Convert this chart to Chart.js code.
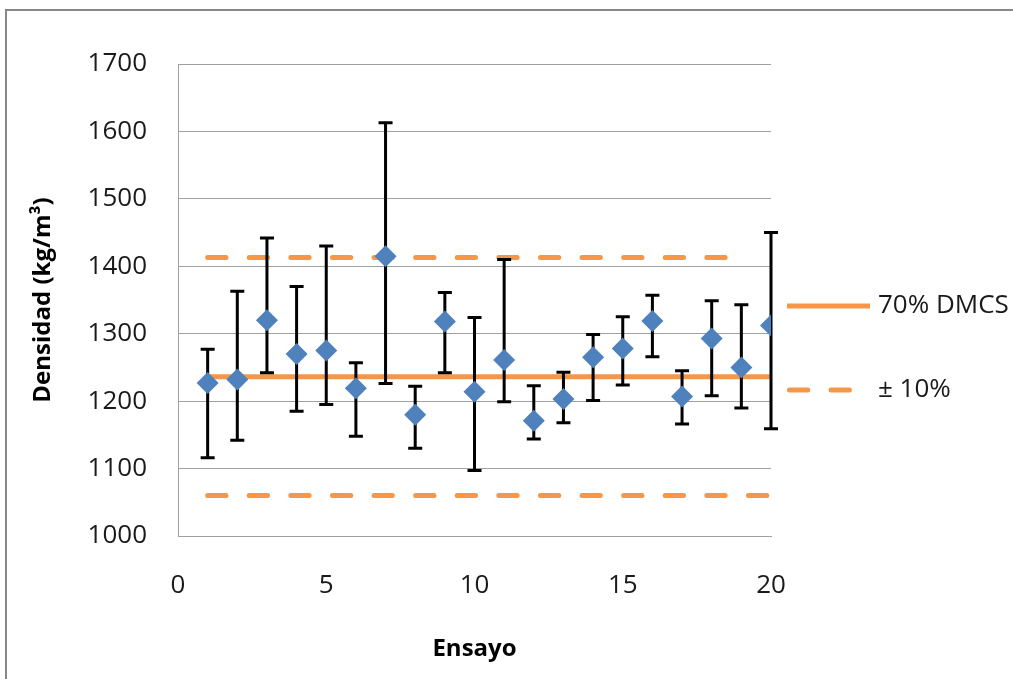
<!DOCTYPE html>
<html>
<head>
<meta charset="utf-8">
<title>Densidad por ensayo</title>
<script src="https://cdn.jsdelivr.net/npm/chart.js@4"></script>
<style>
  html, body { margin: 0; padding: 0; background: #fff; }
  #densityChart { display: block; }
</style>
</head>
<body>
<canvas id="densityChart" width="1013" height="679"></canvas>
<script>
// Densidad medida en cada ensayo, con sus limites de error
var ensayos = [1, 2, 3, 4, 5, 6, 7, 8, 9, 10, 11, 12, 13, 14, 15, 16, 17, 18, 19, 20];
var densidad = [1227, 1232, 1320, 1270, 1275, 1219, 1415, 1180, 1318, 1214,
                1261, 1171, 1203, 1265, 1278, 1319, 1207, 1293, 1250, 1312];
var errorSup = [1277, 1363, 1442, 1370, 1430, 1257, 1613, 1222, 1361, 1324,
                1410, 1223, 1243, 1299, 1325, 1357, 1245, 1349, 1343, 1450];
var errorInf = [1116, 1142, 1242, 1185, 1195, 1148, 1226, 1130, 1242, 1097,
                1199, 1144, 1168, 1201, 1224, 1266, 1166, 1208, 1190, 1159];

// Lineas de referencia: 70% DMCS y +/- 10%
var dmcs70 = 1236;
var limiteSup = 1413;
var limiteInf = 1060;
var rangoDmcs = [1, 20];
var rangoSup = [1, 19];
var rangoInf = [1, 20];

var yTicks = [1000, 1100, 1200, 1300, 1400, 1500, 1600, 1700];
var xTicks = [0, 5, 10, 15, 20];

var legendLabels = ['70% DMCS', '\u00b1 10%'];

var ORANGE = '#F79646';
var BLUE = '#4F81BD';
var GRID = '#A0A0A0';
var FONT = '"Open Sans", "Liberation Sans", sans-serif';
var DASH = [18.3, 23.3];

function horizontal(range, value) {
    return range.map(function (x) { return { x: x, y: value }; });
}

var points = ensayos.map(function (x, i) { return { x: x, y: densidad[i] }; });

// error bars go under the diamonds but over the orange lines
var errorBars = {
    id: 'errorBars',
    beforeDatasetDraw: function (chart, args) {
        if (args.index !== 0) return;
        var ctx = chart.ctx;
        var xs = chart.scales.x, ys = chart.scales.y;
        ctx.save();
        ctx.strokeStyle = '#000';
        ctx.lineWidth = 3;
        for (var i = 0; i < ensayos.length; i++) {
            var px = xs.getPixelForValue(ensayos[i]);
            var top = ys.getPixelForValue(errorSup[i]);
            var bot = ys.getPixelForValue(errorInf[i]);
            ctx.beginPath();
            ctx.moveTo(px, top);
            ctx.lineTo(px, bot);
            ctx.moveTo(px - 7, top);
            ctx.lineTo(px + 7, top);
            ctx.moveTo(px - 7, bot);
            ctx.lineTo(px + 7, bot);
            ctx.stroke();
        }
        ctx.restore();
    }
};

// outer frame and the legend on the right
var frameAndLegend = {
    id: 'frameAndLegend',
    afterDraw: function (chart) {
        var ctx = chart.ctx;
        var area = chart.chartArea;
        ctx.save();
        ctx.strokeStyle = '#878787';
        ctx.lineWidth = 2;
        ctx.strokeRect(6, 10, 1200, 900);

        var x0 = area.right + 16;
        var x1 = x0 + 83;
        var rows = [306, 390];
        ctx.strokeStyle = ORANGE;
        ctx.lineWidth = 5;
        ctx.beginPath();
        ctx.moveTo(x0, rows[0]);
        ctx.lineTo(x1, rows[0]);
        ctx.stroke();

        ctx.lineCap = 'round';
        ctx.setLineDash(DASH);
        ctx.beginPath();
        ctx.moveTo(x0 + 2.5, rows[1]);
        ctx.lineTo(x1, rows[1]);
        ctx.stroke();
        ctx.setLineDash([]);

        ctx.fillStyle = '#1a1a1a';
        ctx.font = '26px ' + FONT;
        ctx.textBaseline = 'middle';
        ctx.textAlign = 'left';
        ctx.fillText(legendLabels[0], x1 + 8, rows[0]);
        ctx.fillText(legendLabels[1], x1 + 8, rows[1]);
        ctx.restore();
    }
};

function plainLabel(value) {
    return String(value);
}

var ctx = document.getElementById('densityChart').getContext('2d');
var densityChart = new Chart(ctx, {
    type: 'scatter',
    data: {
        datasets: [{
            label: 'Densidad',
            data: points,
            pointStyle: 'rectRot',
            pointRadius: 11,
            pointBackgroundColor: BLUE,
            pointBorderColor: BLUE,
            pointBorderWidth: 0,
            showLine: false,
            order: 0
        }, {
            label: legendLabels[0],
            data: horizontal(rangoDmcs, dmcs70),
            showLine: true,
            borderColor: ORANGE,
            borderWidth: 5,
            pointRadius: 0,
            order: 1
        }, {
            label: legendLabels[1],
            data: horizontal(rangoSup, limiteSup),
            showLine: true,
            borderColor: ORANGE,
            borderWidth: 5,
            borderDash: DASH,
            borderCapStyle: 'round',
            pointRadius: 0,
            order: 2
        }, {
            label: legendLabels[1],
            data: horizontal(rangoInf, limiteInf),
            showLine: true,
            borderColor: ORANGE,
            borderWidth: 5,
            borderDash: DASH,
            borderCapStyle: 'round',
            pointRadius: 0,
            order: 3
        }]
    },
    options: {
        responsive: false,
        devicePixelRatio: 1,
        animation: false,
        layout: {
            padding: { left: 0, top: 64, right: 242, bottom: 0 }
        },
        plugins: {
            legend: { display: false },
            tooltip: { enabled: false }
        },
        scales: {
            x: {
                type: 'linear',
                min: 0,
                max: 20,
                afterFit: function (scale) { scale.height = 143; },
                afterBuildTicks: function (scale) {
                    scale.ticks = xTicks.map(function (v) { return { value: v }; });
                },
                grid: { display: false, drawTicks: false },
                border: { display: true, color: GRID, width: 1 },
                ticks: {
                    padding: 34,
                    color: '#1a1a1a',
                    callback: plainLabel,
                    font: { family: FONT, size: 26 }
                },
                title: {
                    display: true,
                    text: 'Ensayo',
                    color: '#000',
                    padding: { top: 0, bottom: 15 },
                    font: { family: FONT, size: 24, weight: 'bold' }
                }
            },
            y: {
                type: 'linear',
                min: 1000,
                max: 1700,
                afterFit: function (scale) { scale.width = 178; },
                afterBuildTicks: function (scale) {
                    scale.ticks = yTicks.map(function (v) { return { value: v }; });
                },
                grid: { color: GRID, lineWidth: 1, drawTicks: false },
                border: { display: true, color: GRID, width: 1 },
                ticks: {
                    padding: 31,
                    color: '#1a1a1a',
                    callback: plainLabel,
                    font: { family: FONT, size: 26 }
                },
                title: {
                    display: true,
                    text: 'Densidad (kg/m\u00b3)',
                    color: '#000',
                    padding: { top: 29, bottom: 0 },
                    font: { family: FONT, size: 24, weight: 'bold' }
                }
            }
        }
    },
    plugins: [errorBars, frameAndLegend]
});
</script>
</body>
</html>
